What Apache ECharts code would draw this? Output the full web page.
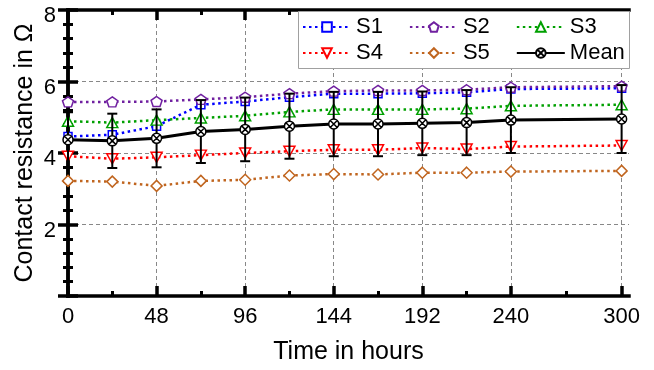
<!DOCTYPE html>
<html><head><meta charset="utf-8">
<script src="https://cdn.jsdelivr.net/npm/echarts@6/dist/echarts.min.js"></script>
<style>html,body{margin:0;padding:0;background:#fff}#c{width:654px;height:370px}</style>
</head><body><div id="c"></div>
<script>
const hours = [0,24,48,72,96,120,144,168,192,216,240,300];
const s1 = [4.46,4.51,4.75,5.35,5.44,5.56,5.66,5.66,5.67,5.70,5.79,5.81];
const s2 = [5.43,5.43,5.44,5.50,5.56,5.66,5.73,5.75,5.75,5.77,5.84,5.87];
const s3 = [4.89,4.85,4.92,4.98,5.04,5.15,5.22,5.22,5.22,5.24,5.32,5.35];
const s4 = [3.91,3.84,3.88,3.94,4.00,4.05,4.09,4.09,4.14,4.11,4.18,4.21];
const s5 = [3.22,3.20,3.08,3.22,3.25,3.37,3.41,3.40,3.45,3.45,3.48,3.50];
const meanVals = [4.37,4.34,4.41,4.60,4.66,4.75,4.81,4.81,4.83,4.85,4.92,4.95];
const meanErr = [0.77,0.76,0.81,0.88,0.89,0.91,0.90,0.90,0.89,0.91,0.92,0.95];
const xMajorTicks = [0,48,96,144,192,240,300];
const xMinorTicks = [24,72,120,168,216,270];
const legendRow1 = ['S1','S2','S3'];
const legendRow2 = ['S4','S5','Mean'];

const FONT = "'Liberation Sans', Arial, sans-serif";
const pts = arr => hours.map((h,i)=>[h, arr[i]]);
const dotted = [2.5, 3.5];

function xAx(pos, ticks, len, w, extra) {
  return Object.assign({
    type:'value', min:0, max:304, position:pos,
    axisLine:{show:false},
    axisTick:{show:true, inside:true, length:len, customValues:ticks, lineStyle:{color:'#000', width:w}},
    axisLabel:{show:false},
    splitLine:{show:false}
  }, extra||{});
}

const option = {
  animation:false,
  backgroundColor:'#fff',
  textStyle:{fontFamily:FONT},
  grid:{left:68, right:25, top:10, bottom:70, containLabel:false},
  xAxis:[
    xAx('bottom', xMajorTicks, 10, 3.5, {
      axisLine:{show:true, lineStyle:{color:'#000', width:3.5, cap:'square'}},
      axisLabel:{show:true, customValues:xMajorTicks, fontSize:22, color:'#000', margin:10, fontFamily:FONT},
      splitLine:{show:true, lineStyle:{color:'#888', width:1, type:[4,3]}},
      name:'Time in hours', nameLocation:'middle', nameGap:44, nameMoveOverlap:false,
      nameTextStyle:{fontSize:25, color:'#000', fontFamily:FONT}
    }),
    xAx('bottom', xMinorTicks, 5, 3),
    xAx('top', xMajorTicks, 10, 3.5, {
      axisLine:{show:true, lineStyle:{color:'#000', width:3.5, cap:'square'}}
    }),
    xAx('top', xMinorTicks, 5, 3)
  ],
  yAxis:[
    {type:'value', min:0, max:8, interval:2, position:'left',
     axisLine:{show:true, lineStyle:{color:'#000', width:3.5, cap:'square'}},
     axisTick:{show:true, inside:true, length:10, lineStyle:{color:'#000', width:3.5}},
     minorTick:{show:true, splitNumber:5, length:5, lineStyle:{color:'#000', width:3}},
     axisLabel:{fontSize:22, color:'#000', margin:12, fontFamily:FONT, verticalAlign:'top', lineHeight:12,
       formatter: v => v===0 ? '' : String(v)},
     splitLine:{show:true, lineStyle:{color:'#888', width:1, type:[4,3]}},
     name:'Contact resistance in Ω', nameLocation:'middle', nameGap:30, nameRotate:90, nameMoveOverlap:false,
     nameTextStyle:{fontSize:25, color:'#000', fontFamily:FONT}
    },
    {type:'value', min:0, max:8, interval:2, position:'right',
     axisLine:{show:true, lineStyle:{color:'#000', width:3.5, cap:'square'}},
     axisTick:{show:true, inside:true, length:10, lineStyle:{color:'#000', width:3.5}},
     minorTick:{show:true, splitNumber:5, length:5, lineStyle:{color:'#000', width:3}},
     axisLabel:{show:false}, splitLine:{show:false}
    }
  ],
  graphic:[{type:'rect', z:10, shape:{x:298.5, y:11.5, width:331, height:57},
    style:{fill:'#fff', stroke:'#a0a0a0', lineWidth:1}}],
  legend:[
    {data:legendRow1, left:302, top:16, padding:0, itemWidth:48, itemHeight:12, itemGap:26, z:20,
     textStyle:{fontSize:22, color:'#000', fontFamily:FONT}},
    {data:legendRow2, left:302, top:42, padding:0, itemWidth:48, itemHeight:12, itemGap:26, z:20,
     textStyle:{fontSize:22, color:'#000', fontFamily:FONT}}
  ],
  series:[
    {name:'S1', type:'line', data:pts(s1), symbol:'rect', symbolSize:8, z:2,
     lineStyle:{color:'#0000ff', width:2.5, type:dotted},
     itemStyle:{color:'#fff', borderColor:'#0000ff', borderWidth:1.5}},
    {name:'S2', type:'line', data:pts(s2), symbol:'path://M0,-1 L0.951,-0.309 L0.588,0.809 L-0.588,0.809 L-0.951,-0.309 Z', symbolSize:[11,10], z:2,
     lineStyle:{color:'#7020a0', width:2.5, type:dotted},
     itemStyle:{color:'#fff', borderColor:'#7020a0', borderWidth:1.5}},
    {name:'S3', type:'line', data:pts(s3), symbol:'triangle', symbolSize:[11,10], z:2,
     lineStyle:{color:'#00a000', width:2.5, type:dotted},
     itemStyle:{color:'#fff', borderColor:'#00a000', borderWidth:1.5}},
    {name:'S4', type:'line', data:pts(s4), symbol:'path://M-1,-0.9 L1,-0.9 L0,0.9 Z', symbolSize:[11,10], z:2,
     lineStyle:{color:'#ff0000', width:2.5, type:dotted},
     itemStyle:{color:'#fff', borderColor:'#ff0000', borderWidth:1.5}},
    {name:'S5', type:'line', data:pts(s5), symbol:'path://M0,-1 L1,0 L0,1 L-1,0 Z', symbolSize:11, z:2,
     lineStyle:{color:'#c0651f', width:2.5, type:dotted},
     itemStyle:{color:'#fff', borderColor:'#c0651f', borderWidth:1.5}},
    {name:'err', type:'custom', z:3, silent:true,
     data: hours.map((h,i)=>[h, meanVals[i]-meanErr[i], meanVals[i]+meanErr[i]]),
     encode:{x:0, y:[1,2]},
     renderItem:function(params, api){
       const x = api.value(0);
       const lo = api.coord([x, api.value(1)]);
       const hi = api.coord([x, api.value(2)]);
       const hw = 5;
       const st = {stroke:'#000', lineWidth:2};
       return {type:'group', children:[
         {type:'line', shape:{x1:lo[0],y1:lo[1],x2:hi[0],y2:hi[1]}, style:st},
         {type:'line', shape:{x1:lo[0]-hw,y1:lo[1],x2:lo[0]+hw,y2:lo[1]}, style:st},
         {type:'line', shape:{x1:hi[0]-hw,y1:hi[1],x2:hi[0]+hw,y2:hi[1]}, style:st}
       ]};
     }},
    {name:'Mean', type:'line', data:pts(meanVals), z:4,
     symbol:'path://M1,0 A1,1 0 1 1 -1,0 A1,1 0 1 1 1,0 Z M-0.7,-0.7 L0.7,0.7 M-0.7,0.7 L0.7,-0.7', symbolSize:10,
     lineStyle:{color:'#000', width:3, type:'solid'},
     itemStyle:{color:'#fff', borderColor:'#000', borderWidth:1.5}}
  ]
};
const chart = echarts.init(document.getElementById('c'), null, {renderer:'canvas'});
chart.setOption(option);
</script></body></html>
